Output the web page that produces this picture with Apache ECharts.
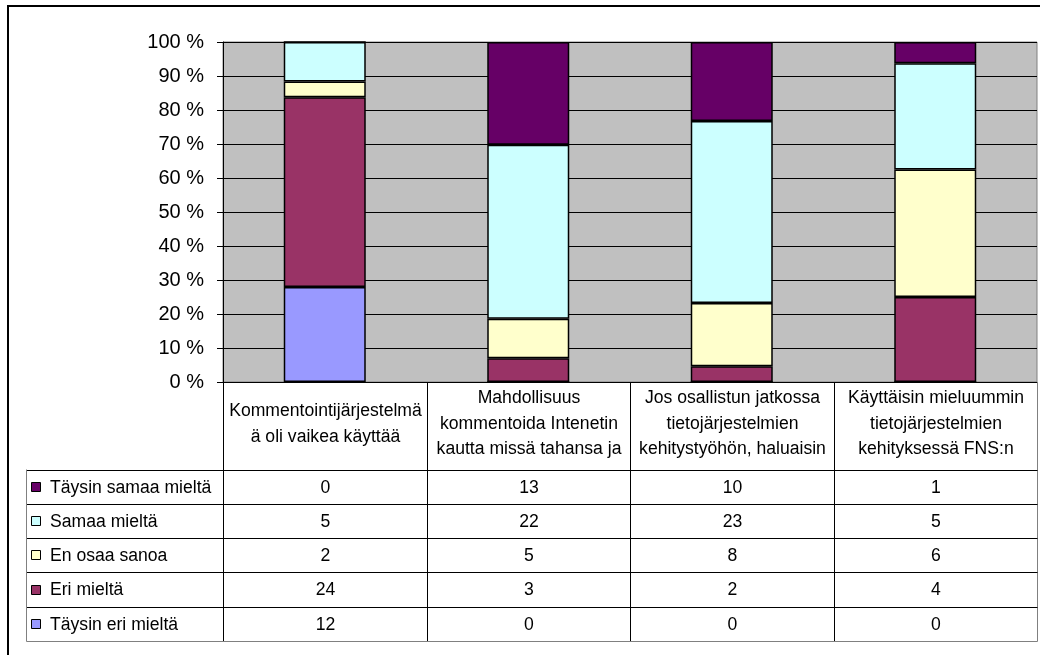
<!DOCTYPE html>
<html>
<head>
<meta charset="utf-8">
<script src="https://cdn.jsdelivr.net/npm/echarts@6/dist/echarts.min.js"></script>
<style>
  html, body { margin: 0; padding: 0; background: #ffffff; }
  #chart { width: 1040px; height: 655px; }
</style>
</head>
<body>
<div id="chart"></div>
<script>
// Survey statements (column headers of the data table, as wrapped lines)
const categories = [
  'Kommentointijärjestelmä\nä oli vaikea käyttää',
  'Mahdollisuus\nkommentoida Intenetin\nkautta missä tahansa ja',
  'Jos osallistun jatkossa\ntietojärjestelmien\nkehitystyöhön, haluaisin',
  'Käyttäisin mieluummin\ntietojärjestelmien\nkehityksessä FNS:n'
];

// Answer counts per statement
const taysinEriMielta   = [12, 0, 0, 0];
const eriMielta         = [24, 3, 2, 4];
const enOsaaSanoa       = [2, 5, 8, 6];
const samaaMielta       = [5, 22, 23, 5];
const taysinSamaaMielta = [0, 13, 10, 1];

// Stack order from the bottom up
const seriesNames  = ['Täysin eri mieltä', 'Eri mieltä', 'En osaa sanoa', 'Samaa mieltä', 'Täysin samaa mieltä'];
const seriesValues = [taysinEriMielta, eriMielta, enOsaaSanoa, samaaMielta, taysinSamaaMielta];
const seriesColors = ['#9999FF', '#993366', '#FFFFCC', '#CCFFFF', '#660066'];

// Value axis ticks (percent)
const yTicks = [0, 10, 20, 30, 40, 50, 60, 70, 80, 90, 100];

const FONT = '"Liberation Sans", Arial, sans-serif';

// Layout
const PLOT_LEFT = 223, PLOT_RIGHT = 1037, PLOT_TOP = 42, PLOT_H = 340;
const PLOT_BOTTOM = PLOT_TOP + PLOT_H;
const ROW_TOP = 469.5, ROW_H = 34.3, TABLE_LEFT = 26.5;

const totals = categories.map((_, i) => seriesValues.reduce((s, arr) => s + arr[i], 0));

const chart = echarts.init(document.getElementById('chart'), null, { renderer: 'canvas' });

const series = seriesNames.map((name, k) => ({
  name: name,
  type: 'bar',
  stack: 'all',
  barWidth: 82,
  data: seriesValues[k].map((v, i) => v / totals[i] * 100),
  itemStyle: { color: seriesColors[k], borderColor: '#000000', borderWidth: 1.5 },
  emphasis: { disabled: true },
  silent: true,
  animation: false
}));

// Data table drawn under the plot
function buildTable() {
  const g = [];
  const colW = (PLOT_RIGHT - PLOT_LEFT) / categories.length;
  const colX = [];
  for (let i = 0; i <= categories.length; i++) colX.push(Math.round(PLOT_LEFT + i * colW) + 0.5);
  const nRows = seriesNames.length;
  const tableBottom = ROW_TOP + nRows * ROW_H;
  const line = (x1, y1, x2, y2, color) => g.push({
    type: 'line', z: 100, silent: true,
    shape: { x1, y1, x2, y2 },
    style: { stroke: color, lineWidth: 1 }
  });
  const text = (t, x, y, align, opts) => g.push({
    type: 'text', z: 101, silent: true,
    style: Object.assign({
      text: t, x, y, align: align, verticalAlign: 'middle',
      fontFamily: FONT, fontSize: 17.6, fill: '#000000', lineHeight: 25.5
    }, opts || {})
  });

  // header row: column dividers and statement texts
  for (let i = 0; i < categories.length; i++) {
    line(colX[i], PLOT_BOTTOM, colX[i], tableBottom, '#000000');
    text(categories[i], (colX[i] + colX[i + 1]) / 2, 424, 'center');
  }
  // right edge of the table
  line(colX[categories.length], PLOT_BOTTOM, colX[categories.length], tableBottom + 0.5, '#808080');

  // value rows, top row is the last series in the stack
  for (let r = 0; r < nRows; r++) {
    const k = nRows - 1 - r;
    const y0 = Math.round(ROW_TOP + r * ROW_H) + 0.5;
    line(TABLE_LEFT, y0, colX[categories.length], y0, '#000000');
    const cy = ROW_TOP + r * ROW_H + ROW_H / 2;
    g.push({
      type: 'rect', z: 101, silent: true,
      shape: { x: 31.5, y: Math.round(cy - 5) + 0.5, width: 9, height: 9 },
      style: { fill: seriesColors[k], stroke: '#000000', lineWidth: 1 }
    });
    text(seriesNames[k], 50, cy + 1, 'left');
    for (let i = 0; i < categories.length; i++) {
      text(String(seriesValues[k][i]), (colX[i] + colX[i + 1]) / 2, cy + 1, 'center');
    }
  }
  const yb = Math.round(tableBottom) + 0.5;
  line(TABLE_LEFT, ROW_TOP, TABLE_LEFT, yb, '#808080');
  line(TABLE_LEFT, yb, colX[categories.length], yb, '#808080');

  // chart frame
  g.push({
    type: 'rect', z: 102, silent: true,
    shape: { x: 8, y: 6, width: 1200, height: 800 },
    style: { fill: null, stroke: '#000000', lineWidth: 2 }
  });
  return g;
}

chart.setOption({
  animation: false,
  backgroundColor: '#ffffff',
  grid: {
    left: PLOT_LEFT, right: 1040 - PLOT_RIGHT, top: PLOT_TOP, height: PLOT_H,
    show: true, backgroundColor: '#C0C0C0', borderColor: '#808080', borderWidth: 1,
    containLabel: false
  },
  xAxis: {
    type: 'category',
    data: categories,
    axisLine: { show: true, lineStyle: { color: '#000000', width: 1 } },
    axisTick: { show: false },
    axisLabel: { show: false },
    splitLine: { show: false }
  },
  yAxis: {
    type: 'value',
    min: yTicks[0], max: yTicks[yTicks.length - 1], interval: yTicks[1] - yTicks[0],
    axisLine: { show: true, lineStyle: { color: '#000000', width: 1 } },
    axisTick: { show: true, inside: false, length: 6, lineStyle: { color: '#000000' } },
    axisLabel: {
      formatter: '{value} %', margin: 19, color: '#000000',
      fontFamily: FONT, fontSize: 20
    },
    splitLine: { show: true, lineStyle: { color: '#000000', width: 1 } }
  },
  series: series,
  graphic: buildTable()
});
</script>
</body>
</html>
